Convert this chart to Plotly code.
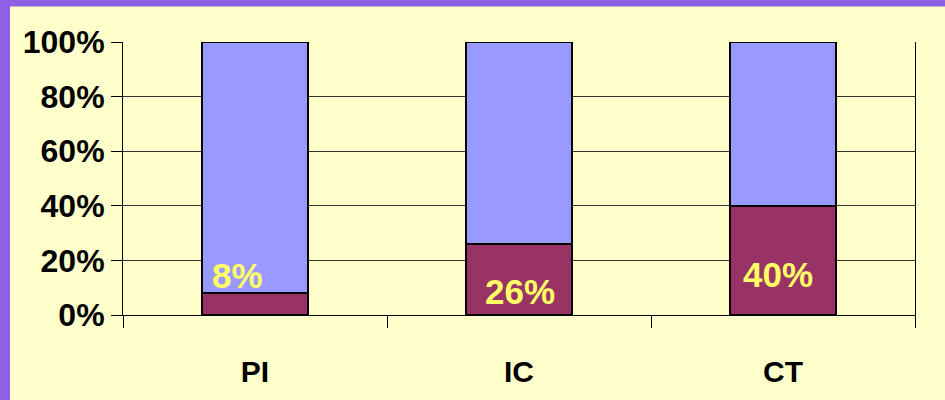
import plotly.graph_objects as go

# Data
categories = ["PI", "IC", "CT"]
lower_share = [0.08, 0.26, 0.40]
upper_share = [0.92, 0.74, 0.60]
label_text = ["8%", "26%", "40%"]

FONT = "Arial, Liberation Sans, sans-serif"

fig = go.Figure()

fig.add_trace(go.Bar(
    x=categories, y=lower_share, width=0.4,
    marker=dict(color="#993366", line=dict(color="black", width=1.5)),
    hoverinfo="skip", showlegend=False,
))
fig.add_trace(go.Bar(
    x=categories, y=upper_share, width=0.4,
    marker=dict(color="#9999FF", line=dict(color="black", width=1.5)),
    hoverinfo="skip", showlegend=False,
))

# data labels (yellow, bold) - offsets tuned to reference placement
label_pos = [(-0.065, 0.146), (0.005, 0.087), (-0.02, 0.15)]
for i, (cat, txt) in enumerate(zip(categories, label_text)):
    dx, yy = label_pos[i]
    fig.add_annotation(
        x=i + dx, y=yy, text=txt, showarrow=False,
        font=dict(family=FONT, size=35, color="#FFFF66", weight="bold"),
    )

# yellow panel over purple frame
fig.add_shape(
    type="rect", xref="paper", yref="paper",
    x0=(10 - 123) / 792, x1=(950 - 123) / 792,
    y0=(318 - 405) / 276, y1=(318 - 6) / 276,
    fillcolor="#FFFFCC", line=dict(width=0), layer="below",
)

fig.update_layout(
    width=945, height=400,
    margin=dict(l=123, r=30, t=42, b=79),
    paper_bgcolor="#8F5FE6",
    plot_bgcolor="#FFFFCC",
    barmode="stack",
    font=dict(family=FONT, color="black"),
)

fig.update_yaxes(
    range=[0, 1], dtick=0.2, tickformat=".0%",
    showgrid=True, gridcolor="#333333", gridwidth=1,
    showline=True, linecolor="black", linewidth=1, mirror=True,
    ticks="outside", ticklen=11, tickcolor="black",
    tickfont=dict(family=FONT, size=32, color="black", weight="bold"),
    zeroline=False, fixedrange=True,
)
fig.update_xaxes(
    showline=True, linecolor="black", linewidth=1,
    ticks="outside", tickson="boundaries", ticklen=12, tickcolor="black",
    tickfont=dict(family=FONT, size=30, color="black", weight="bold"),
    ticklabelstandoff=30,
    showgrid=False, fixedrange=True,
)

fig.write_html("out.html", config={"displayModeBar": False},
               post_script="document.body.style.margin='0';")
